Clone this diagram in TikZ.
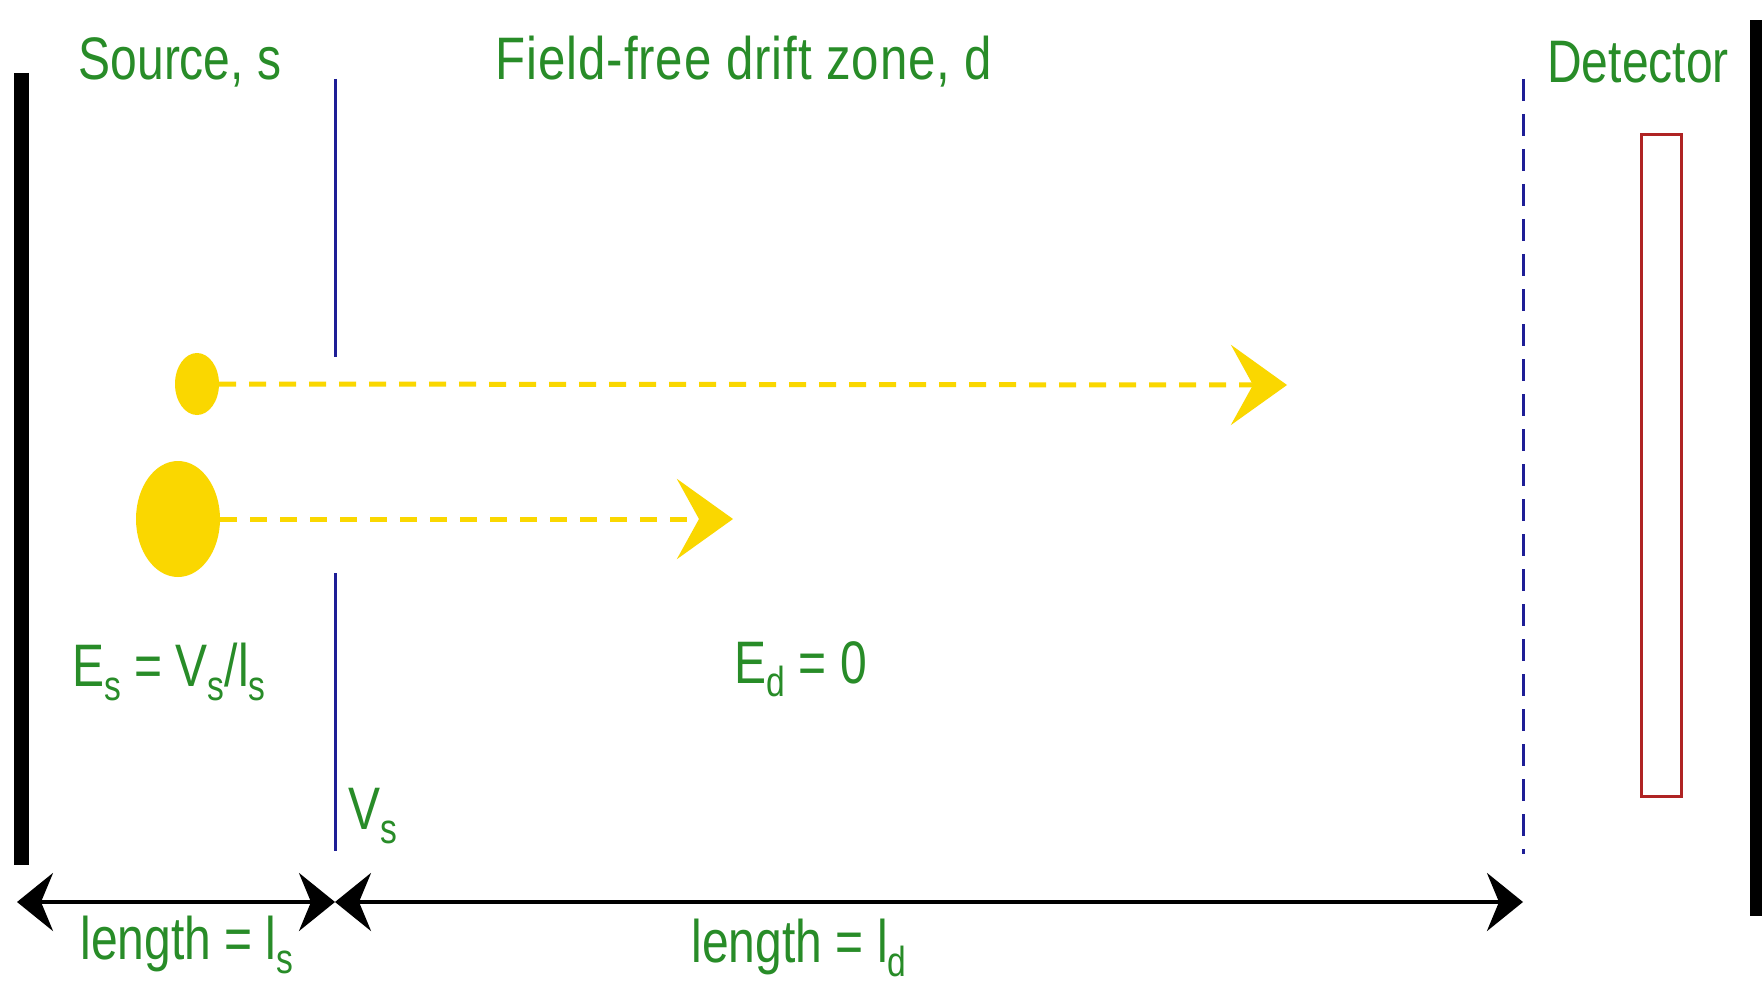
\documentclass[tikz,border=0pt]{standalone}
\usepackage{fontspec}
\setmainfont{Liberation Sans}[FakeStretch=0.8]
\newfontfamily\zonefont{Liberation Sans}[FakeStretch=0.82,LetterSpace=1.5]
\usetikzlibrary{arrows.meta,shapes.geometric}
\definecolor{lbl}{RGB}{40,140,40}
\definecolor{grid}{RGB}{30,30,150}
\definecolor{ion}{RGB}{250,215,0}
\definecolor{det}{RGB}{175,35,35}
\newcommand\lowsub[1]{\raisebox{-0.22em}{\fontsize{42}{42}\selectfont #1}}
\tikzset{
  lbltext/.style={text=lbl,font=\fontsize{60}{68}\selectfont,inner sep=0pt},
  plate/.style={draw=black,line width=15pt},
  gridline/.style={draw=grid,line width=3pt},
  ionbody/.style={ellipse,fill=ion,draw=none,inner sep=0pt},
  flight/.style={draw=ion,line width=5pt,dash pattern=on 17pt off 13pt,-{Stealth[length=56pt,width=80pt,inset=22pt]}},
  dim/.style={draw=black,line width=4pt,{Stealth[length=36pt,width=58pt,inset=12pt]}-{Stealth[length=36pt,width=58pt,inset=12pt]}}
}
\begin{document}
\begin{tikzpicture}[x=1pt,y=-1pt]
\useasboundingbox (0,0) rectangle (1762,987);
\fill[white] (0,0) rectangle (1762,987);
% plates
\draw[plate] (21,73) -- (21,865);
\draw[plate] (1757,20) -- (1757,916);
% grid
\draw[gridline] (335,79) -- (335,357);
\draw[gridline] (335,573) -- (335,851);
\draw[draw=grid,line width=3pt,dash pattern=on 22pt off 13pt] (1523,79) -- (1523,854);
% detector
\draw[det,line width=3pt] (1641,135) rectangle (1681,796);
% labels
\node[lbltext] (src) at (180,62) {Source, s};
\node[lbltext,font=\fontsize{60}{68}\zonefont] (zone) at (744,62) {Field-free drift zone, d};
\node[lbltext] (detl) at (1638,62) {Detector};
\node[lbltext] (es) at (169,672) {E\lowsub{s} = V\lowsub{s}/l\lowsub{s}};
\node[lbltext] (ed) at (801,669) {E\lowsub{d} = 0};
\node[lbltext,anchor=west] (vs) at (348,816) {V\lowsub{s}};
% ions
\node[ionbody,minimum width=44pt,minimum height=62pt] (ionA) at (197,384) {};
\node[ionbody,minimum width=84pt,minimum height=116pt] (ionB) at (178,519) {};
\coordinate (tipA) at (1287,385);
\coordinate (tipB) at (733,519);
\draw[flight] (ionA.east) -- (tipA);
\draw[flight] (ionB.east) -- (tipB);
% dimension arrows
\coordinate (d0) at (17,902);
\coordinate (d1) at (335,902);
\coordinate (d2) at (1523,902);
\draw[dim] (d0) -- (d1);
\draw[dim] (d1) -- (d2);
\node[lbltext] (ls) at (187,945) {length = l\lowsub{s}};
\node[lbltext] (ld) at (799,948) {length = l\lowsub{d}};
\end{tikzpicture}
\end{document}
